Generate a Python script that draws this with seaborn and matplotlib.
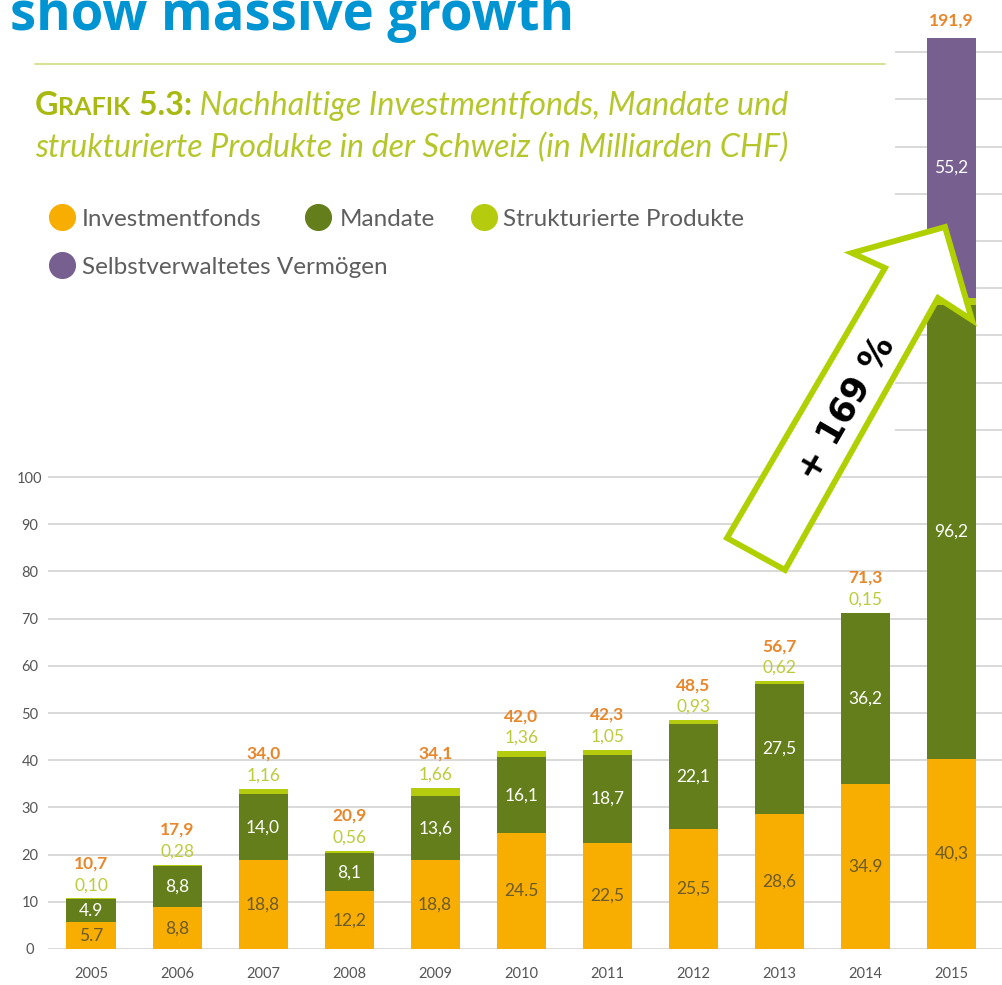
import numpy as np
import pandas as pd
import matplotlib
matplotlib.use("Agg")
import matplotlib.pyplot as plt
import seaborn as sns
from matplotlib.patches import Polygon, Rectangle
from matplotlib.lines import Line2D

# ---------------- data ----------------
years = ["2005", "2006", "2007", "2008", "2009", "2010", "2011", "2012", "2013", "2014", "2015"]
fonds = [5.7, 8.8, 18.8, 12.2, 18.8, 24.5, 22.5, 25.5, 28.6, 34.9, 40.3]
mandate = [4.9, 8.8, 14.0, 8.1, 13.6, 16.1, 18.7, 22.1, 27.5, 36.2, 96.2]
struct = [0.10, 0.28, 1.16, 0.56, 1.66, 1.36, 1.05, 0.93, 0.62, 0.15, 1.4]
selbst = [0, 0, 0, 0, 0, 0, 0, 0, 0, 0, 55.2]
fonds_labels = ["5.7", "8,8", "18,8", "12,2", "18,8", "24.5", "22,5", "25,5", "28,6", "34.9", "40,3"]
mandate_labels = ["4.9", "8,8", "14,0", "8,1", "13,6", "16,1", "18,7", "22,1", "27,5", "36,2", "96,2"]
struct_labels = ["0,10", "0,28", "1,16", "0,56", "1,66", "1,36", "1,05", "0,93", "0,62", "0,15", ""]
selbst_labels = ["", "", "", "", "", "", "", "", "", "", "55,2"]
total_labels = ["10,7", "17,9", "34,0", "20,9", "34,1", "42,0", "42,3", "48,5", "56,7", "71,3", "191,9"]
y_ticks = list(range(0, 101, 10))
grid_levels = list(range(0, 191, 10))

legend_names = ["Investmentfonds", "Mandate", "Strukturierte Produkte", "Selbstverwaltetes Vermögen"]
title = "show massive growth"
subtitle_1 = " Nachhaltige Investmentfonds, Mandate und"
subtitle_2 = "strukturierte Produkte in der Schweiz (in Milliarden CHF)"
arrow_text = "+ 169 %"

# ---------------- style ----------------
ORANGE = "#f7ae00"
GREEN = "#637e1b"
LIME = "#b5cc0e"
PURPLE = "#77608f"
TOTAL_C = "#e8862a"
STRUCT_C = "#bccb3a"
FONDS_TXT = "#6b5a2c"
GRID_C = "#cfcfcf"
TICK_C = "#555555"
BLUE = "#0094d2"
SUB_C = "#b5c62a"
SUB_BOLD = "#a8ba12"
LEG_TXT = "#5e5e5e"
ARROW_C = "#b0d000"

sns.set_theme(style="white")
plt.rcParams["font.family"] = ["Lato", "DejaVu Sans"]

W, H = 1003, 985
fig = plt.figure(figsize=(W / 100, H / 100), dpi=100)
fx = lambda x: x / W
fy = lambda y: 1 - y / H

ax_left, ax_bottom_px = 48, 949
ax = fig.add_axes([fx(ax_left), fy(ax_bottom_px), 1 - fx(ax_left), ax_bottom_px / H])
px_per_unit = 4.72

df = pd.DataFrame(dict(year=years, fonds=fonds, mandate=mandate, struct=struct, selbst=selbst))
df["c1"] = df["fonds"]
df["c2"] = df["c1"] + df["mandate"]
df["c3"] = df["c2"] + df["struct"]
df["c4"] = df["c3"] + df["selbst"]

for col, color in [("c4", PURPLE), ("c3", LIME), ("c2", GREEN), ("c1", ORANGE)]:
    sns.barplot(data=df, x="year", y=col, color=color, saturation=1, width=0.57,
                errorbar=None, ax=ax, linewidth=0, zorder=2)

for v in grid_levels:
    ax.axhline(v, color=GRID_C, lw=1.1, zorder=0)

ax.set_xlim(-0.5, 10.6)
ax.set_ylim(0, ax_bottom_px / px_per_unit)
ax.set_xlabel("")
ax.set_ylabel("")
for s in ax.spines.values():
    s.set_visible(False)
ax.set_yticks(y_ticks)
ax.set_yticklabels([str(v) for v in y_ticks])
ax.tick_params(axis="y", length=0, pad=13, labelsize=10.5, labelcolor=TICK_C)
ax.tick_params(axis="x", length=0, pad=13, labelsize=10.5, labelcolor=TICK_C)
for t in ax.get_yticklabels():
    t.set_ha("center")

# white panel hiding the upper grid lines behind the heading
panel = Rectangle((0, fy(455)), fx(895), 455 / H, transform=fig.transFigure,
                  facecolor="white", edgecolor="none", zorder=1, clip_on=False)
ax.add_artist(panel)

# value labels
lab_fs = 12.5
for i in range(len(years)):
    f, m, st, se = fonds[i], mandate[i], struct[i], selbst[i]
    ax.text(i, f / 2, fonds_labels[i], ha="center", va="center", fontsize=lab_fs, color=FONDS_TXT, zorder=3)
    ax.text(i, f + m / 2, mandate_labels[i], ha="center", va="center", fontsize=lab_fs, color="white", zorder=3)
    top = f + m + st + se
    if selbst_labels[i]:
        ax.text(i, f + m + st + se / 2, selbst_labels[i], ha="center", va="center", fontsize=lab_fs,
                color="white", zorder=3)
    if struct_labels[i]:
        ax.annotate(struct_labels[i], (i, top), xytext=(0, 9.5), textcoords="offset points",
                    ha="center", va="center", fontsize=lab_fs, color=STRUCT_C, zorder=3)
        off = 25
    else:
        off = 12
    ax.annotate(total_labels[i], (i, top), xytext=(0, off), textcoords="offset points",
                ha="center", va="center", fontsize=lab_fs, fontweight="bold", color=TOTAL_C, zorder=3)

renderer = fig.canvas.get_renderer()


def fit(t, target):
    w = t.get_window_extent(renderer).width
    t.set_fontsize(t.get_fontsize() * target / w)


# title (cut at top, as in the source)
tt = fig.text(fx(10), fy(30), title, fontsize=36, fontweight="bold", color=BLUE,
              family=["Open Sans", "DejaVu Sans"], va="baseline", ha="left")
fit(tt, 565)

fig.add_artist(Line2D([fx(35), fx(885)], [fy(64), fy(64)], color="#d8e291", lw=1.4,
                      transform=fig.transFigure))


# subtitle with small caps
def build_line(parts, x, y, base):
    arts = []
    cx = x
    for txt, sc, wt, st, col in parts:
        t = fig.text(fx(cx), fy(y), txt, fontsize=base * sc, fontweight=wt, fontstyle=st,
                     color=col, va="baseline", ha="left")
        cx = t.get_window_extent(renderer).x1
        arts.append(t)
    return arts, cx - x


parts1 = [("G", 1.0, "bold", "normal", SUB_BOLD),
          ("RAFIK", 0.78, "bold", "normal", SUB_BOLD),
          (" 5.3:", 1.0, "bold", "normal", SUB_BOLD),
          (subtitle_1, 1.0, "normal", "italic", SUB_C)]
arts, wline = build_line(parts1, 35, 115, 20)
for a in arts:
    a.remove()
base = 20 * 753 / wline
arts, wline = build_line(parts1, 35, 115, base)
fig.text(fx(35), fy(157), subtitle_2, fontsize=base, fontstyle="italic", color=SUB_C,
         va="baseline", ha="left")

# legend
leg = [(62, 217, ORANGE, 82), (318, 217, GREEN, 340), (484, 217, LIME, 503), (62, 265, PURPLE, 82)]
ltxt = []
for (cxp, cyp, col, tx), name in zip(leg, legend_names):
    fig.add_artist(Line2D([fx(cxp)], [fy(cyp)], marker="o", ms=18.5, color=col, linestyle="none",
                          transform=fig.transFigure))
    ltxt.append(fig.text(fx(tx), fy(cyp + 9), name, fontsize=15, color=LEG_TXT, va="baseline", ha="left"))
fit(ltxt[0], 180)
for t in ltxt[1:]:
    t.set_fontsize(ltxt[0].get_fontsize())

# growth arrow
arrow_px = [(727, 538), (885, 268), (852, 253), (945, 227), (972, 320), (938, 298), (785, 570)]
arrow = Polygon([(fx(x), fy(y)) for x, y in arrow_px], closed=True, transform=fig.transFigure,
                facecolor="white", edgecolor=ARROW_C, lw=4.2, joinstyle="miter", zorder=4)
fig.add_artist(arrow)
fig.text(fx(846), fy(408), arrow_text, rotation=60, rotation_mode="anchor", ha="center", va="center",
         fontsize=25, fontweight="bold", color="black", family=["DejaVu Sans"], zorder=5)

fig.savefig("out.png", dpi=100)
